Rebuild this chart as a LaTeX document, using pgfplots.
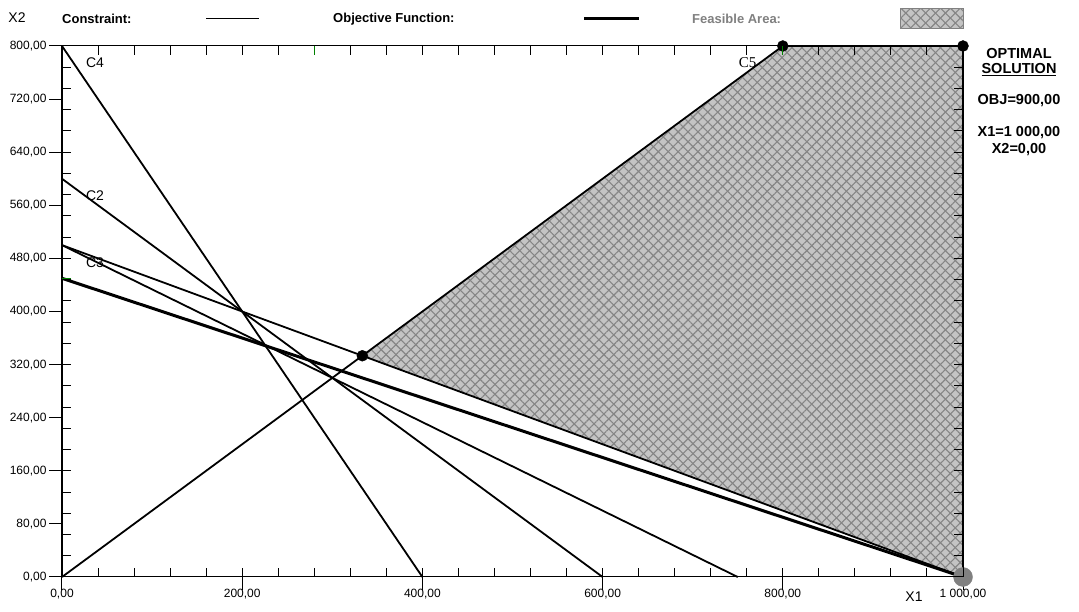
\documentclass[border=0pt]{standalone}
\usepackage{fontspec}
\setmainfont{Liberation Sans}
\newfontfamily\seriffont{Liberation Serif}
\usepackage{pgfplots}
\pgfplotsset{compat=1.18}
\usetikzlibrary{patterns.meta}
\definecolor{hatchbase}{HTML}{C4C4C4}
\definecolor{hatchline}{HTML}{858585}
\definecolor{dotgray}{HTML}{808080}
\definecolor{tickgreen}{HTML}{008000}
\newcommand{\lf}{\fontsize{13}{15}\selectfont\bfseries}
\newcommand{\rf}{\fontsize{14.5}{16}\selectfont\bfseries}
\begin{document}
\begin{tikzpicture}[x=1pt,y=1pt]
\path[use as bounding box] (-62,-35) rectangle (1017,577);
% main axis: data, outer major ticks with labels
\begin{axis}[
  at={(0,0)}, anchor=south west,
  scale only axis, width=901pt, height=531pt,
  xmin=0, xmax=1000, ymin=0, ymax=800,
  clip=false,
  axis line style={line width=1pt},
  xtick={0,200,...,1000}, ytick={0,80,...,800},
  xticklabels={{0,00},{200,00},{400,00},{600,00},{800,00},{1 000,00}},
  yticklabels={{0,00},{80,00},{160,00},{240,00},{320,00},{400,00},{480,00},{560,00},{640,00},{720,00},{800,00}},
  xtick pos=bottom, ytick pos=left,
  tick align=outside, major tick length=13pt,
  tick style={line width=1pt, black},
  tick label style={font=\fontsize{12}{14}\selectfont},
  xticklabel style={anchor=north, yshift=4pt},
  yticklabel style={anchor=east, xshift=1pt},
]
% feasible area
\addplot[draw=none, fill=hatchbase,
  postaction={pattern={Lines[angle=45,distance=7pt,line width=1.1pt]}, pattern color=hatchline},
  postaction={pattern={Lines[angle=-45,distance=7pt,line width=1.1pt]}, pattern color=hatchline}]
  coordinates {(333.33,333.33) (800,800) (1000,800) (1000,0)} -- cycle;
% constraints
\addplot[line width=1.8pt, black] coordinates {(0,800) (400,0)};
\addplot[line width=1.8pt, black] coordinates {(0,600) (600,0)};
\addplot[line width=1.8pt, black] coordinates {(0,500) (750,0)};
\addplot[line width=1.8pt, black] coordinates {(0,500) (1000,0)};
\addplot[line width=1.8pt, black] coordinates {(0,0) (800,800)};
% feasible boundary edges
\addplot[line width=2pt, black] coordinates {(800,800) (1000,800) (1000,0)};
% objective
\addplot[line width=3pt, black] coordinates {(0,450) (1000,0)};
% vertices
\addplot[only marks, mark=*, mark size=5.5pt, black] coordinates {(333.33,333.33) (800,800) (1000,800)};
\addplot[only marks, mark=*, mark size=9.5pt, dotgray, mark options={draw=dotgray, fill=dotgray}] coordinates {(1000,0)};
% constraint labels
\node[font=\fontsize{14}{15}\selectfont] at (axis cs:36.6,775) {C4};
\node[font=\fontsize{14}{15}\selectfont] at (axis cs:36.6,575) {C2};
\node[font=\fontsize{14}{15}\selectfont] at (axis cs:36.6,474) {C3};
\node[font=\fontsize{15}{16}\seriffont] at (axis cs:761,775) {C5};
\end{axis}
% overlay axis: inner minor ticks on all sides
\begin{axis}[
  at={(0,0)}, anchor=south west,
  scale only axis, width=901pt, height=531pt,
  xmin=0, xmax=1000, ymin=0, ymax=800,
  axis line style={line width=1pt},
  xtick={0,40,...,1000}, ytick={0,32,...,800},
  xticklabels={}, yticklabels={},
  tick align=inside, major tick length=9pt,
  tick style={line width=1pt, black},
]
\end{axis}
% green marker ticks
\begin{axis}[
  at={(0,0)}, anchor=south west,
  scale only axis, width=901pt, height=531pt,
  xmin=0, xmax=1000, ymin=0, ymax=800,
  axis line style={draw=none},
  xtick={280,800}, ytick={450},
  xticklabels={}, yticklabels={},
  xtick pos=top, ytick pos=left,
  tick align=inside, major tick length=9pt,
  tick style={line width=1pt, tickgreen},
]
\end{axis}
% axis names
\node[font=\fontsize{14}{15}\selectfont] at (-45,559) {X2};
\node[font=\fontsize{14}{15}\selectfont] at (852,-20) {X1};
% legend
\node[anchor=west, inner sep=0pt, font=\lf] at (0,558) {Constraint:};
\draw[line width=1pt] (144,558) -- (197,558);
\node[anchor=west, inner sep=0pt, font=\lf] at (271,558) {Objective Function:};
\draw[line width=3pt] (522,558) -- (577,558);
\node[anchor=west, inner sep=0pt, font=\lf, text=dotgray] at (630,558) {Feasible Area:};
\draw[draw=dotgray, line width=1pt, fill=hatchbase,
  postaction={pattern={Lines[angle=45,distance=7pt,line width=1.1pt]}, pattern color=hatchline},
  postaction={pattern={Lines[angle=-45,distance=7pt,line width=1.1pt]}, pattern color=hatchline}]
  (838,548) rectangle (901,568);
% optimal solution box
\node[font=\rf] at (957,523) {OPTIMAL};
\node[font=\rf] at (957,507) {\underline{SOLUTION}};
\node[font=\rf] at (957,476) {OBJ=900,00};
\node[font=\rf] at (957,444) {X1=1 000,00};
\node[font=\rf] at (957,427) {X2=0,00};
\end{tikzpicture}
\end{document}
